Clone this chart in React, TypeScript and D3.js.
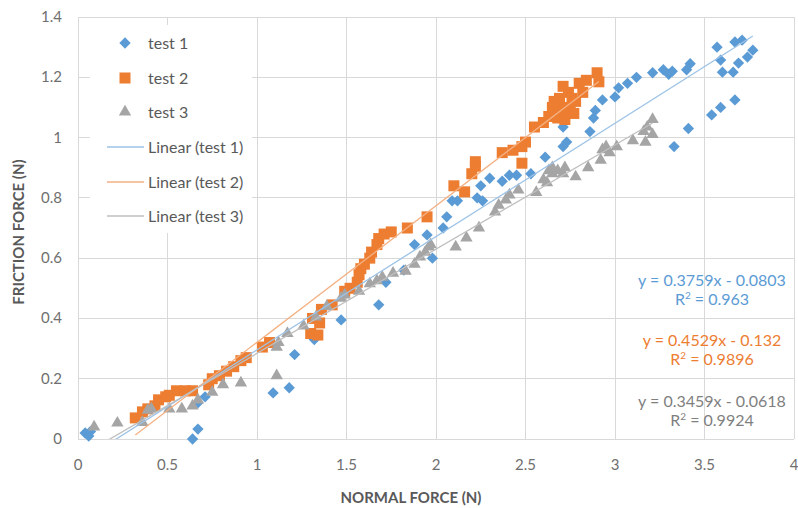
import React, { useEffect, useRef } from 'react';
import * as d3 from 'd3';

const test1 = [
  [0.04, 0.02], [0.06, 0.01], [0.07, 0.025],
  [0.64, 0.0], [0.67, 0.033], [0.67, 0.12], [0.71, 0.14],
  [1.09, 0.153], [1.18, 0.17], [1.21, 0.28], [1.32, 0.33], [1.47, 0.395], [1.68, 0.445], [1.72, 0.52], [1.82, 0.56],
  [1.88, 0.645], [1.95, 0.677], [1.98, 0.6], [2.04, 0.7], [2.06, 0.737], [2.09, 0.79], [2.12, 0.79],
  [2.23, 0.8], [2.25, 0.84], [2.26, 0.79], [2.3, 0.865], [2.37, 0.855], [2.41, 0.875], [2.45, 0.875], [2.53, 0.88], [2.61, 0.935],
  [2.71, 0.97], [2.73, 0.985], [2.71, 1.035], [2.86, 1.02], [2.88, 1.065], [2.89, 1.09], [2.93, 1.125], [3.0, 1.135],
  [3.02, 1.165], [3.07, 1.18], [3.12, 1.2], [3.21, 1.215], [3.27, 1.225], [3.3, 1.21], [3.32, 1.22], [3.4, 1.225],
  [3.42, 1.245], [3.33, 0.97], [3.41, 1.03],
  [3.54, 1.075], [3.59, 1.1], [3.67, 1.125], [3.57, 1.3], [3.59, 1.257], [3.6, 1.217], [3.66, 1.217], [3.69, 1.247],
  [3.67, 1.317], [3.71, 1.323], [3.74, 1.267], [3.77, 1.29],
];

const test2 = [
  [0.32, 0.07], [0.36, 0.09], [0.39, 0.1], [0.43, 0.11], [0.45, 0.13], [0.49, 0.14], [0.51, 0.145], [0.55, 0.16],
  [0.6, 0.16], [0.64, 0.16], [0.73, 0.18], [0.75, 0.2], [0.79, 0.21], [0.83, 0.225], [0.87, 0.24], [0.91, 0.26],
  [0.94, 0.27], [1.03, 0.305], [1.07, 0.32], [1.3, 0.35], [1.34, 0.345], [1.31, 0.4], [1.35, 0.385], [1.36, 0.43],
  [1.42, 0.445], [1.49, 0.49], [1.52, 0.5], [1.56, 0.52], [1.57, 0.545], [1.58, 0.565], [1.6, 0.58], [1.63, 0.6],
  [1.64, 0.62], [1.67, 0.645], [1.68, 0.665], [1.71, 0.68], [1.75, 0.687], [1.84, 0.7], [1.95, 0.737], [2.1, 0.84],
  [2.16, 0.82], [2.2, 0.88], [2.22, 0.905], [2.22, 0.92], [2.37, 0.95], [2.43, 0.958], [2.48, 0.97], [2.5, 0.985],
  [2.48, 0.915], [2.55, 1.035], [2.6, 1.05], [2.63, 1.07], [2.65, 1.1], [2.66, 1.12], [2.67, 1.08], [2.68, 1.065],
  [2.69, 1.13], [2.7, 1.1], [2.71, 1.17], [2.72, 1.06], [2.73, 1.085], [2.74, 1.15], [2.75, 1.1], [2.76, 1.13],
  [2.77, 1.08], [2.78, 1.12], [2.8, 1.18], [2.82, 1.15], [2.84, 1.19], [2.9, 1.215], [2.91, 1.185],
];

const test3 = [
  [0.09, 0.04], [0.22, 0.053], [0.36, 0.055], [0.39, 0.096], [0.41, 0.1], [0.51, 0.1], [0.58, 0.1], [0.64, 0.11],
  [0.67, 0.13], [0.75, 0.155], [0.81, 0.18], [0.91, 0.186], [1.11, 0.21], [1.11, 0.305], [1.12, 0.32], [1.17, 0.35],
  [1.26, 0.375], [1.33, 0.405], [1.39, 0.44], [1.47, 0.467], [1.49, 0.478], [1.57, 0.49], [1.63, 0.515], [1.67, 0.525],
  [1.7, 0.537], [1.76, 0.55], [1.83, 0.557], [1.88, 0.58], [1.91, 0.604], [1.94, 0.62], [1.96, 0.637], [1.97, 0.645],
  [2.11, 0.637], [2.17, 0.667], [2.24, 0.7], [2.33, 0.753], [2.35, 0.776], [2.39, 0.793], [2.41, 0.81], [2.46, 0.826],
  [2.56, 0.818], [2.6, 0.86], [2.63, 0.89], [2.65, 0.88], [2.62, 0.85], [2.65, 0.9], [2.68, 0.89], [2.71, 0.88],
  [2.72, 0.9], [2.78, 0.87], [2.85, 0.9], [2.92, 0.925], [2.93, 0.96], [2.97, 0.95], [2.95, 0.97], [3.01, 0.97],
  [3.1, 0.99], [3.17, 0.985], [3.16, 1.02], [3.18, 1.035], [3.21, 1.06], [3.21, 1.01],
];

const seriesNames = ['test 1', 'test 2', 'test 3'];
const slopes = [0.3759, 0.4529, 0.3459];
const intercepts = [-0.0803, -0.132, -0.0618];
const equations = ['y = 0.3759x - 0.0803', 'y = 0.4529x - 0.132', 'y = 0.3459x - 0.0618'];
const rSquared = ['0.963', '0.9896', '0.9924'];
const xTicks = [0, 0.5, 1, 1.5, 2, 2.5, 3, 3.5, 4];
const yTicks = [0, 0.2, 0.4, 0.6, 0.8, 1, 1.2, 1.4];

const colors = ['#5B9BD5', '#ED7D31', '#A5A5A5'];
const trendColors = ['#9DC3E6', '#F4B183', '#BFBFBF'];
const eqColors = ['#5B9BD5', '#ED7D31', '#7F7F7F'];
const font = 'Lato, "Open Sans", sans-serif';

const W = 798, H = 508;

function App() {
  const ref = useRef<SVGSVGElement>(null);

  useEffect(() => {
    const svg = d3.select(ref.current);
    svg.selectAll('*').remove();

    const x = d3.scaleLinear().domain([0, 4]).range([78, 794]);
    const y = d3.scaleLinear().domain([0, 1.4]).range([439, 17]);

    svg.append('defs').append('clipPath').attr('id', 'plot')
      .append('rect').attr('x', 78).attr('y', 17).attr('width', 716).attr('height', 422);

    // grid
    svg.append('g').selectAll('line').data(xTicks).join('line')
      .attr('x1', d => x(d)).attr('x2', d => x(d)).attr('y1', y(1.4)).attr('y2', y(0))
      .attr('stroke', '#d9d9d9').attr('stroke-width', 1).attr('shape-rendering', 'crispEdges');
    svg.append('g').selectAll('line').data(yTicks).join('line')
      .attr('x1', x(0)).attr('x2', x(4)).attr('y1', d => y(d)).attr('y2', d => y(d))
      .attr('stroke', '#d9d9d9').attr('stroke-width', 1).attr('shape-rendering', 'crispEdges');

    // tick labels
    svg.append('g').selectAll('text').data(xTicks).join('text')
      .attr('x', d => x(d)).attr('y', 470).attr('text-anchor', 'middle')
      .attr('font-family', font).attr('font-size', 15).attr('fill', '#6f6f6f')
      .text(d => String(d));
    svg.append('g').selectAll('text').data(yTicks).join('text')
      .attr('x', 62).attr('y', d => y(d) + 5).attr('text-anchor', 'end')
      .attr('font-family', font).attr('font-size', 15).attr('fill', '#6f6f6f')
      .text(d => String(d));

    // axis titles
    svg.append('text').attr('x', 411).attr('y', 503).attr('text-anchor', 'middle')
      .attr('font-family', font).attr('font-size', 15).attr('font-weight', 'bold').attr('fill', '#595959')
      .text('NORMAL FORCE (N)');
    svg.append('text').attr('transform', 'translate(24,232) rotate(-90)').attr('text-anchor', 'middle')
      .attr('font-family', font).attr('font-size', 15).attr('font-weight', 'bold').attr('fill', '#595959')
      .text('FRICTION FORCE (N)');

    const diamond = d3.symbol().type(d3.symbolSquare).size(64);
    const square = d3.symbol().type(d3.symbolSquare).size(121);
    const triangle = d3.symbol().type(d3.symbolTriangle).size(66);
    const shapes = [diamond, square, triangle];
    const rot = [45, 0, 0];

    [test1, test2, test3].forEach((data, i) => {
      svg.append('g').selectAll('path').data(data).join('path')
        .attr('d', shapes[i]())
        .attr('transform', d => `translate(${x(d[0])},${y(d[1])}) rotate(${rot[i]})`)
        .attr('fill', colors[i]);
    });

    // trendlines over the data range
    const trendG = svg.append('g').attr('clip-path', 'url(#plot)');
    [test1, test2, test3].forEach((data, i) => {
      const [x0, x1] = d3.extent(data, d => d[0]) as [number, number];
      trendG.append('line')
        .attr('x1', x(x0)).attr('y1', y(slopes[i] * x0 + intercepts[i]))
        .attr('x2', x(x1)).attr('y2', y(slopes[i] * x1 + intercepts[i]))
        .attr('stroke', trendColors[i]).attr('stroke-width', 1.3);
    });

    // equations
    const eqBase = [286, 346, 407];
    equations.forEach((eq, i) => {
      svg.append('text').attr('x', 712).attr('y', eqBase[i]).attr('text-anchor', 'middle')
        .attr('font-family', font).attr('font-size', 16).attr('fill', eqColors[i])
        .text(eq);
      const r = svg.append('text').attr('x', 712).attr('y', eqBase[i] + 19).attr('text-anchor', 'middle')
        .attr('font-family', font).attr('font-size', 16).attr('fill', eqColors[i]);
      r.append('tspan').text('R');
      r.append('tspan').attr('font-size', 10).attr('dy', -6).text('2');
      r.append('tspan').attr('dy', 6).text(' = ' + rSquared[i]);
    });

    // legend
    const lg = svg.append('g');
    lg.append('rect').attr('x', 90).attr('y', 25).attr('width', 162).attr('height', 208).attr('fill', '#fff');
    const rows = [...seriesNames, ...seriesNames.map(s => `Linear (${s})`)];
    const rowY = [43, 78, 112, 147, 182, 216];
    rows.forEach((label, i) => {
      if (i < 3) {
        lg.append('path').attr('d', shapes[i]())
          .attr('transform', `translate(125,${rowY[i]}) rotate(${rot[i]})`).attr('fill', colors[i]);
      } else {
        lg.append('line').attr('x1', 107).attr('x2', 144).attr('y1', rowY[i]).attr('y2', rowY[i])
          .attr('stroke', trendColors[i - 3]).attr('stroke-width', 1.3);
      }
      lg.append('text').attr('x', 148).attr('y', rowY[i] + 5.5)
        .attr('font-family', font).attr('font-size', 16).attr('fill', '#595959').text(label);
    });
  }, []);

  return (
    <svg ref={ref} width={W} height={H} style={{ position: 'absolute', left: 0, top: 0, background: '#fff' }} />
  );
}

export default App;
